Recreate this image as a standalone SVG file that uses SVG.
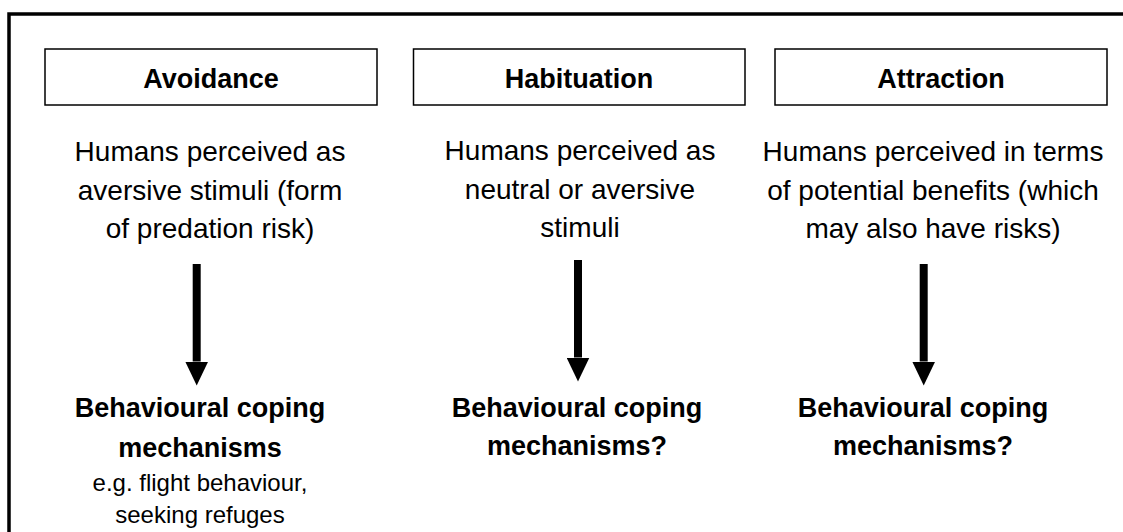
<svg xmlns="http://www.w3.org/2000/svg" width="1123" height="532" viewBox="0 0 1123 532">
  <defs>
    <style>
      .frame { fill: none; stroke: #000; stroke-width: 3.5; }
      .box { fill: #fff; stroke: #000; stroke-width: 1.5; }
      .title { font-family: "Liberation Sans", Arial, sans-serif; font-weight: bold; font-size: 27px; fill: #000; text-anchor: middle; }
      .body { font-family: "Liberation Sans", Arial, sans-serif; font-size: 28px; fill: #000; text-anchor: middle; }
      .result { font-family: "Liberation Sans", Arial, sans-serif; font-weight: bold; font-size: 27px; fill: #000; text-anchor: middle; }
      .example { font-family: "Liberation Sans", Arial, sans-serif; font-size: 24px; fill: #000; text-anchor: middle; }
      .arrow { stroke: #000; stroke-width: 8; fill: none; marker-end: url(#head); }
    </style>
    <marker id="head" markerUnits="userSpaceOnUse" viewBox="0 0 24 23" markerWidth="24" markerHeight="23" refX="0" refY="11.5" orient="auto">
      <path d="M0,0 L24,11.5 L0,23 Z" fill="#000"/>
    </marker>
  </defs>
  <rect width="1123" height="532" fill="#fff"/>
  <rect class="frame" x="9" y="14" width="1130" height="540"/>

  <g id="avoidance-title">
    <rect class="box" x="45" y="49" width="332" height="56"/>
    <text class="title" x="211" y="88">Avoidance</text>
  </g>
  <g id="habituation-title">
    <rect class="box" x="413.5" y="49" width="331.5" height="56"/>
    <text class="title" x="579" y="88">Habituation</text>
  </g>
  <g id="attraction-title">
    <rect class="box" x="775" y="49" width="332" height="56"/>
    <text class="title" x="941" y="88">Attraction</text>
  </g>

  <g id="avoidance-perception">
    <text class="body" x="210" y="161">Humans perceived as</text>
    <text class="body" x="210" y="199.5">aversive stimuli (form</text>
    <text class="body" x="210" y="238">of predation risk)</text>
  </g>
  <g id="habituation-perception">
    <text class="body" x="580" y="160">Humans perceived as</text>
    <text class="body" x="580" y="198.5">neutral or aversive</text>
    <text class="body" x="580" y="237">stimuli</text>
  </g>
  <g id="attraction-perception">
    <text class="body" x="933" y="161">Humans perceived in terms</text>
    <text class="body" x="933" y="199.5">of potential benefits (which</text>
    <text class="body" x="933" y="238">may also have risks)</text>
  </g>

  <g id="connectors">
    <line class="arrow" x1="196.7" y1="264" x2="196.7" y2="361.5"/>
    <line class="arrow" x1="578" y1="260" x2="578" y2="357.5"/>
    <line class="arrow" x1="923.7" y1="264" x2="923.7" y2="361.5"/>
  </g>

  <g id="avoidance-coping">
    <text class="result" x="200" y="416.5">Behavioural coping</text>
    <text class="result" x="200" y="456.5">mechanisms</text>
    <text class="example" x="200" y="491">e.g. flight behaviour,</text>
    <text class="example" x="200" y="523">seeking refuges</text>
  </g>
  <g id="habituation-coping">
    <text class="result" x="577" y="416.5">Behavioural coping</text>
    <text class="result" x="577" y="454.5">mechanisms?</text>
  </g>
  <g id="attraction-coping">
    <text class="result" x="923" y="416.5">Behavioural coping</text>
    <text class="result" x="923" y="454.5">mechanisms?</text>
  </g>
</svg>
